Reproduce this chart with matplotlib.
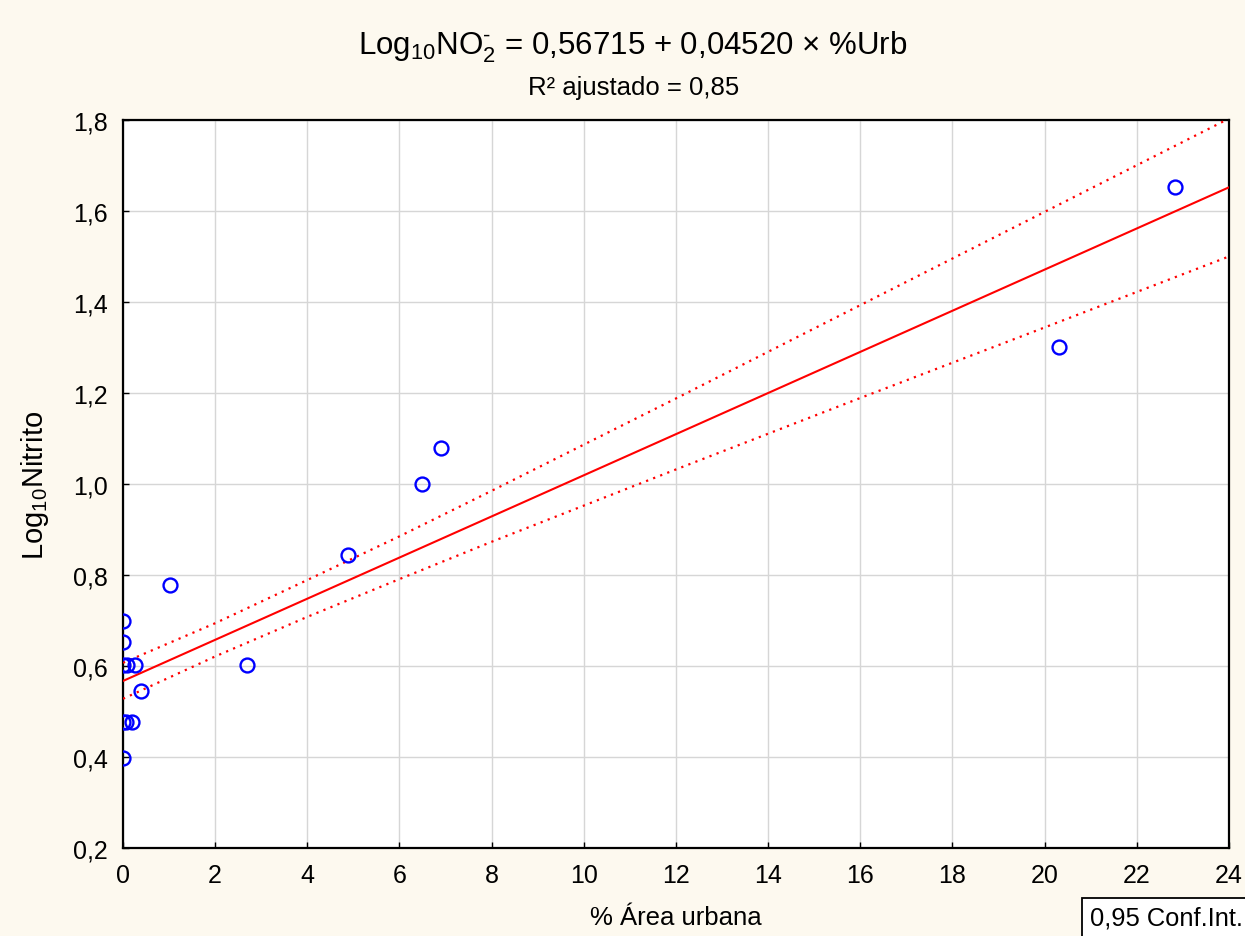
import numpy as np
import matplotlib
matplotlib.use("Agg")
import matplotlib.pyplot as plt
from matplotlib.ticker import FuncFormatter

plt.rcParams['font.family'] = ['Liberation Sans', 'DejaVu Sans']
plt.rcParams['mathtext.fontset'] = 'custom'
plt.rcParams['mathtext.rm'] = 'Liberation Sans'
plt.rcParams['mathtext.it'] = 'Liberation Sans:italic'
plt.rcParams['mathtext.bf'] = 'Liberation Sans:bold'
plt.rcParams['mathtext.sf'] = 'Liberation Sans'

urb_pct = [0.0, 0.0, 0.0, 0.08, 0.26, 0.39, 0.0, 0.06, 0.19, 0.0,
           1.02, 2.69, 4.89, 6.49, 6.91, 20.31, 22.83]
log_nitrito = [0.699, 0.653, 0.602, 0.602, 0.602, 0.544, 0.477, 0.477, 0.477, 0.398,
               0.778, 0.602, 0.845, 1.000, 1.079, 1.301, 1.653]

# Regression model as given in the chart title
fit_intercept = 0.56715
fit_slope = 0.04520

# 0.95 confidence band
ci_x = [0, 2, 4, 6, 8, 12, 16, 20, 24]
ci_upper = [0.607, 0.694, 0.789, 0.885, 0.985, 1.188, 1.393, 1.598, 1.803]
ci_lower = [0.528, 0.621, 0.708, 0.791, 0.873, 1.032, 1.189, 1.344, 1.500]

x_ticks = list(range(0, 25, 2))
y_ticks = [0.2, 0.4, 0.6, 0.8, 1.0, 1.2, 1.4, 1.6, 1.8]

title_text = "Log$_{\\mathrm{10}}$NO$_{\\mathrm{2}}^{\\mathrm{\u2010}}$ = 0,56715 + 0,04520 × %Urb"
subtitle_text = "R² ajustado = 0,85"
x_label = "% Área urbana"
y_label = "Log$_{\\mathrm{10}}$Nitrito"
legend_text = "0,95 Conf.Int."

bg = "#FDF9EF"
fig = plt.figure(figsize=(12.45, 9.37), dpi=100, facecolor=bg)
ax = fig.add_axes([0.0988, 0.0939, 0.9871 - 0.0988, 0.8709 - 0.0939])
ax.set_facecolor("white")

xx = np.array([0.0, 24.0])
ax.plot(xx, fit_intercept + fit_slope * xx, color="#FF0000", lw=1.5, zorder=3)
ax.plot(ci_x, ci_upper, color="#FF0000", lw=1.6, ls=(0, (1, 2.4)), zorder=3)
ax.plot(ci_x, ci_lower, color="#FF0000", lw=1.6, ls=(0, (1, 2.4)), zorder=3)

ax.plot(urb_pct, log_nitrito, 'o', mfc='none', mec='#0000FF', mew=1.7, ms=10,
        zorder=4, clip_on=True)

ax.set_xlim(0, 24)
ax.set_ylim(0.2, 1.8)
ax.set_xticks(x_ticks)
ax.set_yticks(y_ticks)
ax.yaxis.set_major_formatter(FuncFormatter(lambda v, p: f"{v:.1f}".replace('.', ',')))
ax.grid(True, color="#D6D6D6", lw=1.0, zorder=0)
ax.set_axisbelow(True)
ax.tick_params(direction='in', length=4, width=1, labelsize=18, pad=11, colors='black')
for sp in ax.spines.values():
    sp.set_linewidth(1.6)
    sp.set_color('black')

ax.set_xlabel(x_label, fontsize=18.5, labelpad=13)
ax.set_ylabel(y_label, fontsize=21, labelpad=16)

fig.text(0.508, 0.950, title_text, ha='center', va='center', fontsize=22.5)
fig.text(0.509, 0.906, subtitle_text, ha='center', va='center', fontsize=18.5)

fig.text(0.8755, 0.0200, legend_text, ha='left', va='center', fontsize=18.4,
         bbox=dict(boxstyle='square,pad=0.3', fc='white', ec='black', lw=1.3))

fig.savefig("out.png", dpi=100, facecolor=bg)
